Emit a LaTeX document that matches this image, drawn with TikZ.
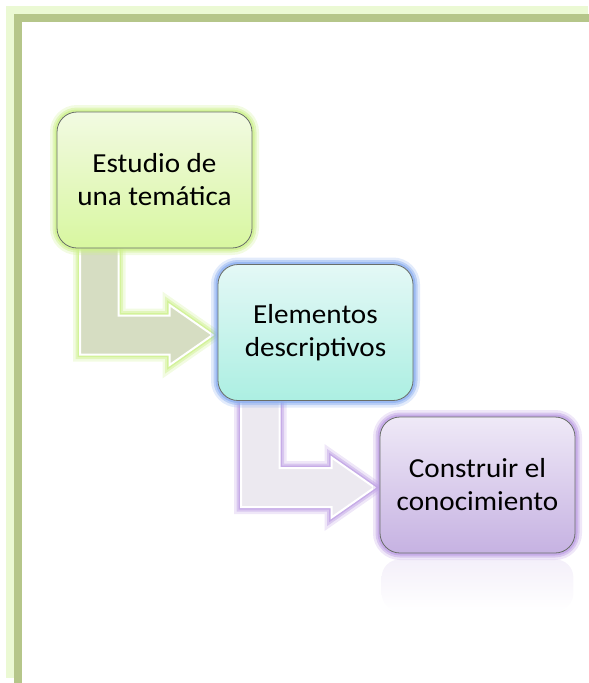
\documentclass[tikz,border=0pt]{standalone}
\usepackage{fontspec}
\setmainfont{Carlito}
\newfontfamily\boxfont[FakeStretch=1.06]{Carlito}
\usetikzlibrary{calc}
\definecolor{framelight}{RGB}{235,249,212}
\definecolor{framedark}{RGB}{181,198,138}
\definecolor{gtop}{RGB}{242,250,226}
\definecolor{gbot}{RGB}{216,247,160}
\definecolor{ctop}{RGB}{228,248,246}
\definecolor{cbot}{RGB}{172,239,226}
\definecolor{ptop}{RGB}{239,233,247}
\definecolor{pbot}{RGB}{198,178,226}
\definecolor{glowg}{RGB}{205,240,140}
\definecolor{glowb}{RGB}{140,175,240}
\definecolor{glowp}{RGB}{190,160,228}
\definecolor{arrg}{RGB}{214,221,194}
\definecolor{arrp}{RGB}{236,233,240}
\definecolor{boxline}{RGB}{105,110,105}
\tikzset{
  stagebox/.style={rounded corners=20pt, minimum width=195pt, minimum height=136pt,
    draw=boxline, line width=0.8pt, align=center, inner sep=0pt,
    font=\boxfont\fontsize{27.5}{33}\selectfont, text=black},
  glow/.style={preaction={draw=#1, line width=14pt, opacity=0.25},
               preaction={draw=#1, line width=9pt, opacity=0.45},
               preaction={draw=#1, line width=5pt, opacity=0.7}},
  arrowshape/.style={fill=#1, draw=white, line width=2pt, line join=miter}
}
\newcommand\bentarr[4]{%
  \path[glow=#4, arrowshape=#3] let \p1=(#1.south west), \p2=(#2.west) in
   (\x1+23.5pt,\y1+6pt) -- (\x1+62pt,\y1+6pt) -- (\x1+62pt,\y2+17pt) --
   (\x2-48pt,\y2+17pt) -- (\x2-48pt,\y2+27.5pt) -- (\x2-5pt,\y2-2.5pt) --
   (\x2-48pt,\y2-32.5pt) -- (\x2-48pt,\y2-22pt) -- (\x1+23.5pt,\y2-22pt) -- cycle;}
\begin{document}
\begin{tikzpicture}[x=1pt,y=-1pt]
\useasboundingbox (0,0) rectangle (589,683);
% frame
\fill[framelight] (6,6) rectangle (588,14);
\fill[framelight] (6,6) rectangle (14,678);
\fill[framedark] (14,14) rectangle (589,22);
\fill[framedark] (14,14) rectangle (22,683);
% invisible placeholders for anchors
\path (154.5,180) node[stagebox, draw=none, text opacity=0] (b1) {Estudio de\\una temática};
\path (315.5,332.5) node[stagebox, draw=none, text opacity=0] (b2) {Elementos\\descriptivos};
\path (477.5,485) node[stagebox, draw=none, text opacity=0] (b3) {Construir el\\conocimiento};
% reflection
\shade[top color=ptop!70, bottom color=white, rounded corners=18pt]
  ($(b3.south west)+(2,6)$) rectangle ($(b3.south east)+(-2,58)$);
% arrows
\bentarr{b1}{b2}{arrg}{glowg}
\bentarr{b2}{b3}{arrp}{glowp}
% boxes drawn
\node[stagebox, glow=glowg, top color=gtop, bottom color=gbot] at (b1.center) {Estudio de\\una temática};
\node[stagebox, glow=glowb, top color=ctop, bottom color=cbot] at (b2.center) {Elementos\\descriptivos};
\node[stagebox, glow=glowp, top color=ptop, bottom color=pbot] at (b3.center) {Construir el\\conocimiento};
\end{tikzpicture}
\end{document}
